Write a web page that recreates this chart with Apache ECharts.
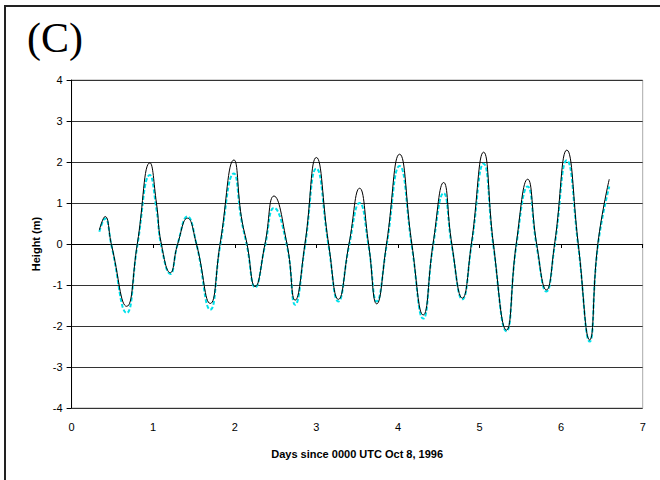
<!DOCTYPE html>
<html>
<head>
<meta charset="utf-8">
<script src="https://cdn.jsdelivr.net/npm/echarts@6/dist/echarts.min.js"></script>
<style>
  html, body { margin: 0; padding: 0; background: #fff; }
  #chart { width: 660px; height: 480px; }
</style>
</head>
<body>
<div id="chart"></div>
<script>
// days since 0000 UTC Oct 8, 1996 (extrema and zero crossings)
const days = [0.34, 0.41, 0.49, 0.675, 0.805, 0.96, 1.04, 1.10, 1.21, 1.30, 1.42, 1.53,
  1.70, 1.82, 1.99, 2.08, 2.15, 2.25, 2.37, 2.48, 2.64, 2.74, 2.86, 3.00, 3.15, 3.27,
  3.40, 3.53, 3.64, 3.74, 3.86, 4.02, 4.17, 4.31, 4.43, 4.56, 4.66, 4.79, 4.90, 5.05,
  5.17, 5.33, 5.45, 5.59, 5.70, 5.82, 5.92, 6.07, 6.21, 6.35, 6.45, 6.59]

// observed height (m), black line
const observed = [0.34, 0.67, -0.03, -1.52, 0, 1.98, 1.0, 0, -0.70, 0, 0.63, 0,
  -1.45, 0, 2.05, 0.67, 0, -1.04, 0, 1.17, 0, -1.37, 0, 2.11, 0, -1.35,
  0, 1.36, 0, -1.46, 0, 2.19, 0, -1.73, 0, 1.50, 0, -1.32, 0, 2.24,
  0, -2.10, 0, 1.58, 0, -1.12, 0, 2.29, 0, -2.34, 0, 1.58]

// modelled height (m), cyan dashed line
const modelled = [0.30, 0.62, -0.05, -1.68, -0.05, 1.68, 0.85, -0.05, -0.73, 0, 0.67, 0,
  -1.60, -0.05, 1.72, 0.60, -0.05, -1.06, -0.05, 0.88, -0.05, -1.48, -0.05, 1.84, -0.05, -1.40,
  -0.05, 1.00, -0.05, -1.40, -0.05, 1.90, -0.05, -1.82, -0.05, 1.24, -0.05, -1.35, -0.05, 1.96,
  -0.05, -2.13, -0.05, 1.40, -0.05, -1.16, -0.05, 2.04, -0.05, -2.38, -0.05, 1.40]

const xTicks = [0, 1, 2, 3, 4, 5, 6, 7]
const yTicks = [-4, -3, -2, -1, 0, 1, 2, 3, 4]

const pairs = (xs, ys) => xs.map((x, i) => [x, ys[i]])

const chart = echarts.init(document.getElementById('chart'), null, { renderer: 'svg' })

chart.setOption({
  animation: false,
  backgroundColor: '#fff',
  graphic: [
    {
      type: 'rect',
      shape: { x: 5, y: 6, width: 700, height: 600 },
      style: { fill: 'none', stroke: '#222', lineWidth: 2 }
    },
    {
      type: 'text',
      left: 27,
      top: 17,
      style: { text: '(C)', font: '42px "Liberation Serif", "Times New Roman", serif', fill: '#000' }
    }
  ],
  grid: {
    left: 71.6, right: 17.3, top: 80, bottom: 72,
    show: true, borderColor: '#aaa', borderWidth: 1
  },
  xAxis: {
    type: 'value',
    min: xTicks[0], max: xTicks[xTicks.length - 1], interval: 1,
    name: 'Days since 0000 UTC Oct 8, 1996',
    nameLocation: 'middle', nameGap: 40,
    nameTextStyle: { fontFamily: 'Liberation Sans, Arial', fontSize: 11, fontWeight: 'bold', color: '#000' },
    axisLine: { lineStyle: { color: '#000', width: 1 } },
    axisTick: { show: true, inside: false, length: 4, lineStyle: { color: '#000' } },
    axisLabel: { fontFamily: 'Liberation Sans, Arial', fontSize: 11, color: '#000', margin: 13 },
    splitLine: { show: false }
  },
  yAxis: {
    type: 'value',
    min: yTicks[0], max: yTicks[yTicks.length - 1], interval: 1,
    name: 'Height (m)',
    nameLocation: 'middle', nameGap: 29,
    nameTextStyle: { fontFamily: 'Liberation Sans, Arial', fontSize: 11, fontWeight: 'bold', color: '#000' },
    axisLine: { show: true, lineStyle: { color: '#000', width: 1 } },
    axisTick: { show: true, inside: false, length: 5, lineStyle: { color: '#000' } },
    axisLabel: { fontFamily: 'Liberation Sans, Arial', fontSize: 11, color: '#000', margin: 9 },
    splitLine: { show: true, lineStyle: { color: '#333', width: 1 } }
  },
  series: [
    {
      name: 'model',
      type: 'line',
      data: pairs(days, modelled),
      smooth: 0.5,
      showSymbol: false,
      lineStyle: { color: '#00e0ea', width: 2, type: [4, 2] },
      z: 2
    },
    {
      name: 'observed',
      type: 'line',
      data: pairs(days, observed),
      smooth: 0.5,
      showSymbol: false,
      lineStyle: { color: '#000', width: 1 },
      z: 3
    }
  ]
})
</script>
</body>
</html>
